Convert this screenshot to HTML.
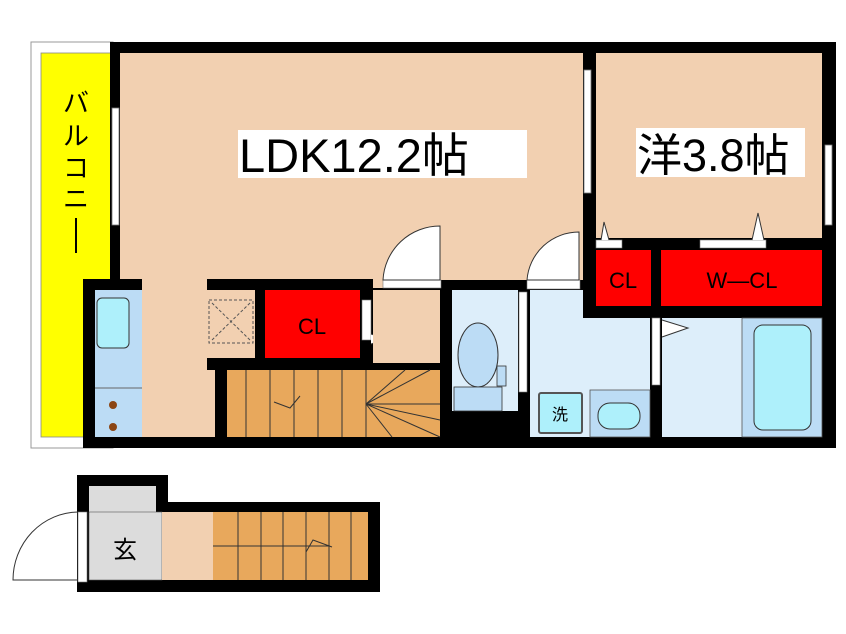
<!DOCTYPE html>
<html><head><meta charset="utf-8"><style>
html,body{margin:0;padding:0;background:#fff;width:846px;height:634px;overflow:hidden}
svg{display:block}
text{font-family:"Liberation Sans","Noto Sans CJK JP",sans-serif}
</style></head><body>
<svg width="846" height="634" viewBox="0 0 846 634" xmlns="http://www.w3.org/2000/svg">
<!-- balcony -->
<rect x="31" y="42" width="82" height="406" fill="#fff" stroke="#999" stroke-width="1"/>
<rect x="41" y="53" width="72" height="384" fill="#ffff00" stroke="#888" stroke-width="0.8"/>
<text x="76" y="112" font-size="26" text-anchor="middle">バ</text>
<text x="76" y="145" font-size="26" text-anchor="middle">ル</text>
<text x="76" y="177" font-size="26" text-anchor="middle">コ</text>
<text x="76" y="208" font-size="26" text-anchor="middle">ニ</text>
<rect x="75" y="218" width="2" height="35" fill="#000"/>
<!-- black base for main building -->
<path d="M110,42 H836 V448 H83 V279 H110 Z" fill="#000"/>
<!-- LDK floor -->
<path d="M120,53 H583 V280 H441 V288 H373 V279 H207 V290 H255 V358 H207 V370 H215 V437 H142 V279 H120 Z" fill="#f2d0b1"/>
<!-- window left -->
<rect x="112" y="108" width="7" height="117" fill="#fff" stroke="#777" stroke-width="0.8"/>
<!-- 洋 room -->
<rect x="596" y="53" width="226" height="185" fill="#f2d0b1"/>
<rect x="584" y="70" width="7" height="123" fill="#fff" stroke="#777" stroke-width="0.8"/>
<rect x="825" y="145" width="7" height="80" fill="#fff" stroke="#777" stroke-width="0.8"/>
<!-- closets -->
<rect x="596" y="250" width="55" height="56" fill="#f00"/>
<rect x="661" y="250" width="161" height="56" fill="#f00"/>
<rect x="596" y="240" width="26" height="8" fill="#fff" stroke="#777" stroke-width="0.6"/>
<rect x="700" y="240" width="66" height="8" fill="#fff" stroke="#777" stroke-width="0.6"/>
<path d="M601,240 L604,222 L609,240" fill="#fff" stroke="#333" stroke-width="1"/>
<path d="M752,240 L758,213 L764,240" fill="#fff" stroke="#333" stroke-width="1"/>
<text x="623" y="288" font-size="22" text-anchor="middle">CL</text>
<text x="742" y="288" font-size="22" text-anchor="middle">W—CL</text>
<!-- kitchen -->
<rect x="95" y="290" width="47" height="147" fill="#bcdcf5"/>
<rect x="97" y="298" width="32" height="50" rx="5" fill="#aef0fb" stroke="#333" stroke-width="1"/>
<line x1="95" y1="388" x2="142" y2="388" stroke="#666" stroke-width="1"/>
<circle cx="113" cy="405" r="4" fill="#8b4513"/>
<circle cx="113" cy="427" r="4" fill="#8b4513"/>
<!-- dotted box -->
<rect x="209" y="300" width="44" height="43" fill="none" stroke="#555" stroke-width="1" stroke-dasharray="3,2"/>
<line x1="212" y1="303" x2="250" y2="340" stroke="#555" stroke-dasharray="3,2"/>
<line x1="250" y1="303" x2="212" y2="340" stroke="#555" stroke-dasharray="3,2"/>
<rect x="265" y="290" width="95" height="68" fill="#f00"/>
<text x="312" y="334" font-size="22" text-anchor="middle">CL</text>
<rect x="362" y="300" width="9" height="40" fill="#fff" stroke="#777" stroke-width="0.6"/>
<path d="M371,334 L387,339 L371,344" fill="#fff" stroke="#333" stroke-width="1"/>
<!-- hall -->
<rect x="373" y="290" width="67" height="73" fill="#f2d0b1"/>
<!-- stairs upper -->
<rect x="227" y="370" width="213" height="67" fill="#e8a85c"/>
<g stroke="#333" stroke-width="1">
<line x1="246" y1="370" x2="246" y2="437"/><line x1="270" y1="370" x2="270" y2="437"/>
<line x1="294" y1="370" x2="294" y2="437"/><line x1="318" y1="370" x2="318" y2="437"/>
<line x1="342" y1="370" x2="342" y2="437"/><line x1="366" y1="370" x2="366" y2="437"/>
<line x1="366" y1="404" x2="440" y2="404"/>
<line x1="366" y1="404" x2="440" y2="437"/>
<line x1="366" y1="404" x2="405" y2="370"/>
<line x1="366" y1="404" x2="430" y2="370"/>
<line x1="366" y1="404" x2="440" y2="420"/>
<line x1="366" y1="404" x2="392" y2="437"/>
<polyline points="274,402 290,408 300,396" fill="none"/>
</g>
<!-- hall door -->
<rect x="383" y="280" width="58" height="8" fill="#fff" stroke="#777" stroke-width="0.6"/>
<path d="M383,280 A57,57 0 0 1 440,226 V280 Z" fill="#fff" stroke="#333" stroke-width="1"/>
<!-- toilet -->
<rect x="452" y="290" width="66" height="121" fill="#ddeefa"/>
<ellipse cx="478" cy="355" rx="20" ry="32" fill="#bcdcf5" stroke="#333" stroke-width="1"/>
<rect x="497" y="366" width="9" height="20" fill="#bcdcf5" stroke="#333" stroke-width="0.8"/>
<rect x="454" y="387" width="48" height="24" fill="#bcdcf5" stroke="#333" stroke-width="0.8"/>
<rect x="519" y="292" width="8" height="100" fill="#fff" stroke="#777" stroke-width="0.6"/>
<!-- washroom -->
<path d="M530,290 H583 V318 H650 V437 H530 Z" fill="#ddeefa"/>
<rect x="527" y="280" width="53" height="9" fill="#fff" stroke="#777" stroke-width="0.6"/>
<path d="M527,280 A52,52 0 0 1 579,232 V280 Z" fill="#fff" stroke="#333" stroke-width="1"/>
<rect x="539" y="393" width="43" height="40" rx="2" fill="#aef0fb" stroke="#555" stroke-width="2"/>
<text x="560" y="420" font-size="16" text-anchor="middle">洗</text>
<rect x="590" y="390" width="60" height="47" fill="#bcdcf5" stroke="#555" stroke-width="0.8"/>
<rect x="598" y="403" width="42" height="26" rx="12" fill="#aef0fb" stroke="#333" stroke-width="1"/>
<!-- bath -->
<rect x="662" y="318" width="80" height="119" fill="#ddeefa"/>
<rect x="742" y="318" width="80" height="119" fill="#bcdcf5" stroke="#555" stroke-width="0.8"/>
<rect x="754" y="325" width="57" height="105" rx="9" fill="#aef0fb" stroke="#333" stroke-width="1"/>
<rect x="652" y="318" width="8" height="67" fill="#fff" stroke="#777" stroke-width="0.6"/>
<path d="M662,320 L688,328 L662,337" fill="#fff" stroke="#333" stroke-width="1"/>
<!-- labels -->
<rect x="238" y="130" width="289" height="48" fill="#fff"/>
<text x="239" y="172" font-size="47">LDK12.2帖</text>
<rect x="636" y="128" width="169" height="49" fill="#fff"/>
<text x="637" y="171" font-size="45">洋3.8帖</text>
<!-- entrance -->
<path d="M77,475 H168 V502 H380 V592 H77 Z" fill="#000"/>
<rect x="89" y="486" width="67" height="26" fill="#dcdcdc"/>
<rect x="89" y="512" width="73" height="68" fill="#dcdcdc" stroke="#555" stroke-width="0.6"/>
<text x="125" y="558" font-size="24" text-anchor="middle">玄</text>
<rect x="162" y="512" width="51" height="68" fill="#f2d0b1"/>
<rect x="213" y="512" width="155" height="68" fill="#e8a85c"/>
<g stroke="#333" stroke-width="1">
<line x1="238" y1="512" x2="238" y2="580"/><line x1="261" y1="512" x2="261" y2="580"/>
<line x1="283" y1="512" x2="283" y2="580"/><line x1="306" y1="512" x2="306" y2="580"/>
<line x1="329" y1="512" x2="329" y2="580"/><line x1="351" y1="512" x2="351" y2="580"/>
<line x1="213" y1="546" x2="330" y2="546"/>
<polyline points="306,552 313,540 332,547" fill="none"/>
</g>
<rect x="78" y="512" width="9" height="70" fill="#fff" stroke="#777" stroke-width="0.6"/>
<path d="M78,512 A66,68 0 0 0 13,580 H78" fill="none" stroke="#333" stroke-width="1"/>
</svg>
</body></html>
